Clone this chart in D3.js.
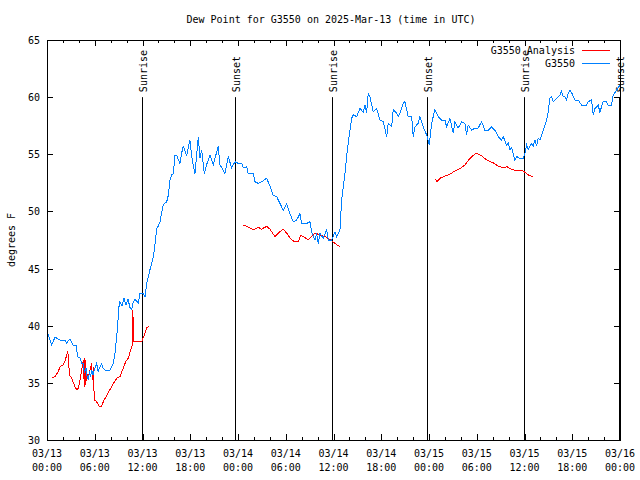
<!DOCTYPE html>
<html><head><meta charset="utf-8">
<script src="https://cdn.jsdelivr.net/npm/d3@7"></script>
<style>body{margin:0;background:#fff}svg{display:block}text{font-family:"DejaVu Sans Mono","Liberation Mono",monospace;font-size:10px;fill:#000}</style>
</head><body><svg id="c" width="640" height="480"></svg>
<script>
const title = "Dew Point for G3550 on 2025-Mar-13 (time in UTC)";
const yLabel = "degrees F";
const startTime = Date.UTC(2025, 2, 13, 0, 0);
const yTicks = [30, 35, 40, 45, 50, 55, 60, 65];
const seriesNames = ["G3550 Analysis", "G3550"];
const seriesColors = ["#ff0000", "#0080ff"];
// [hours since 03/13 00:00 UTC, degF]
const observed = [[0,39.5],[0.59,38.3],[1.0,39.0],[1.63,38.75],[2.26,38.75],[2.47,38.5],[2.89,38.85],[3.3,38.3],[3.73,38.3],[3.8,37.3],[4.15,37.2],[4.36,36.7],[4.56,36.7],[4.69,35.9],[4.9,36.3],[5.03,35.6],[5.19,35.3],[5.34,36.0],[5.46,35.5],[5.62,36.1],[5.78,35.7],[6.03,36.3],[6.24,36.7],[6.41,36.0],[6.66,36.4],[6.87,36.7],[7.04,36.3],[7.29,36.1],[7.91,36.1],[8.33,36.7],[8.54,37.6],[8.83,39.6],[9.05,41.7],[9.17,42.1],[9.42,41.7],[9.67,42.4],[9.92,41.8],[10.18,42.3],[10.43,41.6],[10.64,41.4],[10.8,42.0],[11.06,42.3],[11.47,42.0],[11.68,42.8],[12.1,42.8],[12.31,42.5],[12.52,43.7],[12.94,44.9],[13.35,46.0],[13.57,47.1],[13.78,48.5],[13.98,48.7],[14.2,49.1],[14.61,50.6],[15.04,50.85],[15.24,51.4],[15.45,52.75],[15.66,53.2],[15.87,53.3],[16.08,54.9],[16.29,54.9],[16.71,54.2],[16.92,55.1],[17.12,55.7],[17.55,54.9],[17.96,56.25],[18.18,54.8],[18.59,53.3],[19.01,56.5],[19.22,54.65],[19.43,55.4],[19.76,53.3],[20.06,54.1],[20.48,54.9],[20.89,54.1],[21.52,55.7],[21.73,54.1],[22.36,53.3],[22.78,54.8],[23.2,53.8],[23.62,54.35],[24.03,54.2],[24.46,54.2],[24.66,53.8],[25.09,53.9],[25.29,53.3],[25.92,53.3],[26.13,52.6],[26.55,52.45],[26.97,52.6],[27.6,52.9],[28.02,52.2],[28.43,51.4],[28.86,51.3],[29.27,50.7],[29.69,50.1],[30.11,50.7],[30.53,49.8],[30.94,49.1],[31.37,49.25],[31.78,49.8],[31.99,48.95],[32.63,48.95],[33.04,49.1],[33.25,48.2],[33.67,47.5],[33.88,48.1],[34.08,47.2],[34.3,48.1],[34.71,47.65],[35.14,48.4],[35.34,47.5],[35.77,47.5],[36.18,48.2],[36.4,47.8],[36.81,48.4],[37.02,51.0],[37.44,53.3],[37.65,54.8],[37.85,56.0],[38.07,57.1],[38.28,58.15],[38.48,58.45],[38.91,58.3],[39.32,59.0],[39.74,58.7],[39.95,59.3],[40.16,58.6],[40.36,60.3],[40.58,60.05],[40.99,58.7],[41.42,59.0],[41.83,58.0],[42.25,57.85],[42.68,56.55],[42.88,57.7],[43.3,57.4],[43.51,58.9],[43.93,58.6],[44.13,58.3],[44.35,58.6],[44.76,59.45],[44.97,59.6],[45.19,58.9],[45.39,58.3],[45.82,58.3],[46.02,56.55],[46.23,57.4],[46.65,57.7],[46.86,58.3],[47.27,57.4],[47.7,56.7],[48.03,55.8],[48.33,57.7],[48.74,58.9],[49.16,58.3],[49.59,58.0],[50.0,58.0],[50.21,57.4],[50.63,58.15],[51.04,56.85],[51.26,57.85],[51.67,57.3],[52.1,57.85],[52.51,57.7],[52.72,56.7],[52.93,57.55],[53.36,57.1],[53.77,57.3],[54.18,57.3],[54.61,57.85],[55.03,57.1],[55.44,57.1],[55.87,57.4],[56.28,57.1],[56.7,56.55],[57.12,56.25],[57.33,56.55],[57.75,55.8],[57.95,56.0],[58.17,55.4],[58.38,55.6],[58.79,54.5],[59.01,54.8],[59.42,54.65],[59.84,54.65],[60.05,55.1],[60.26,55.8],[60.46,55.4],[60.68,55.7],[60.89,55.95],[61.09,55.7],[61.31,56.25],[61.52,55.7],[61.72,56.4],[61.93,56.25],[62.35,57.1],[62.78,58.0],[62.98,58.7],[63.19,59.9],[63.41,60.05],[63.61,59.6],[64.03,59.9],[64.45,60.2],[64.66,60.5],[64.86,60.05],[65.08,60.05],[65.29,59.75],[65.49,60.35],[65.7,60.6],[65.92,60.4],[66.33,59.75],[66.75,59.75],[67.17,59.3],[67.8,59.3],[68.0,59.6],[68.43,59.75],[68.63,58.45],[68.84,59.0],[69.26,59.3],[69.47,58.7],[69.89,59.6],[70.31,59.6],[70.52,59.3],[70.94,59.3],[71.14,60.2],[71.57,60.6],[71.98,61.05]];
const analysis1 = [[0.67,35.45],[1.0,35.55],[1.42,36.0],[1.63,36.4],[2.05,36.6],[2.26,36.9],[2.6,37.75],[2.73,37.0],[2.8,35.7],[3.1,35.4],[3.52,34.65],[3.73,34.4],[3.93,34.5],[4.15,35.25],[4.36,36.1],[4.56,37.0],[4.69,34.65],[4.77,37.2],[4.86,34.8],[4.99,35.8],[5.19,35.5],[5.4,36.1],[5.62,36.7],[5.69,35.25],[5.82,36.4],[5.94,33.5],[6.24,33.35],[6.57,32.9],[6.87,32.95],[7.07,33.35],[7.5,33.9],[7.91,34.4],[8.33,34.95],[8.76,35.4],[9.17,35.55],[9.59,36.3],[9.92,36.9],[10.21,37.15],[10.52,37.9],[10.77,38.45],[10.8,41.4],[10.84,38.6],[11.9,38.6],[12.31,39.35],[12.52,39.8],[12.85,39.95]];
const analysis2 = [[24.66,48.8],[25.09,48.7],[25.92,48.4],[26.55,48.6],[26.97,48.45],[27.6,48.7],[28.02,48.45],[28.64,47.8],[29.06,48.1],[29.69,48.45],[30.11,48.1],[30.74,47.5],[31.16,47.35],[31.57,47.35],[31.87,47.9],[32.2,47.8],[32.83,47.5],[33.25,47.8],[33.67,48.1],[34.3,47.95],[34.92,47.8],[35.55,47.55],[36.18,47.2],[36.81,46.9]];
const analysis3 = [[48.83,52.8],[49.03,52.6],[49.37,52.9],[50.0,53.1],[50.63,53.25],[51.26,53.55],[51.88,53.75],[52.51,54.05],[53.05,54.55],[53.48,54.85],[53.89,55.1],[54.31,55.0],[54.74,54.8],[55.15,54.55],[55.65,54.35],[56.07,54.25],[56.49,54.05],[56.91,53.9],[57.33,53.85],[57.83,53.9],[58.17,53.75],[58.79,53.6],[59.64,53.6],[59.92,53.5],[60.46,53.2],[61.09,53.0]];
const sunEvents = [[11.9,"Sunrise"],[23.68,"Sunset"],[35.83,"Sunrise"],[47.72,"Sunset"],[59.95,"Sunrise"],[71.93,"Sunset"]];

const H = 3600e3;
const toDate = h => new Date(startTime + h * H);
const svg = d3.select("#c");
const L = 47, R = 620, T = 40, B = 440;
const x = d3.scaleUtc().domain([toDate(0), toDate(72)]).range([L, R]);
const y = d3.scaleLinear().domain([30, 65]).range([B, T]);
const crisp = v => Math.round(v) + 0.5;

// sun lines
const sun = svg.append("g");
sunEvents.forEach(([h, name]) => {
  const xx = crisp(x(toDate(h)));
  sun.append("line").attr("x1", xx).attr("x2", xx).attr("y1", y(60)).attr("y2", B)
    .attr("stroke", "#000").attr("stroke-width", 1);
  sun.append("text").attr("transform", `translate(${xx + 4},${y(60) - 5}) rotate(-90)`)
    .attr("text-anchor", "start").text(name);
});

// series
const line = d3.line().x(d => x(toDate(d[0]))).y(d => y(d[1]));
[analysis1, analysis2, analysis3].forEach(seg => {
  svg.append("path").datum(seg).attr("d", line).attr("fill", "none")
    .attr("stroke", seriesColors[0]).attr("stroke-width", 1).attr("shape-rendering", "crispEdges");
});
svg.append("path").datum(observed).attr("d", line).attr("fill", "none")
  .attr("stroke", seriesColors[1]).attr("stroke-width", 1).attr("shape-rendering", "crispEdges");

// axes
const majorTicks = d3.utcHour.every(6).range(toDate(0), toDate(72.01));
const minorTicks = d3.utcHour.every(2).range(toDate(0), toDate(72.01));
const fmtD = d3.utcFormat("%m/%d"), fmtT = d3.utcFormat("%H:%M");
const xb = svg.append("g").attr("transform", `translate(0,${B})`)
  .call(d3.axisBottom(x).tickValues(majorTicks).tickSize(0).tickFormat(""));
xb.select(".domain").remove();
const xt = svg.append("g").attr("transform", `translate(0,${T})`)
  .call(d3.axisTop(x).tickValues(majorTicks).tickSize(0).tickFormat(""));
xt.select(".domain").remove();
const tk = svg.append("g").attr("stroke", "#000").attr("stroke-width", 1);
minorTicks.forEach(d => {
  const xx = crisp(x(d));
  const len = (d.getUTCHours() % 6 === 0) ? 6 : 3;
  tk.append("line").attr("x1", xx).attr("x2", xx).attr("y1", B).attr("y2", B - len);
  tk.append("line").attr("x1", xx).attr("x2", xx).attr("y1", T).attr("y2", T + len);
});
majorTicks.forEach(d => {
  const xx = x(d);
  svg.append("text").attr("x", xx).attr("y", 457).attr("text-anchor", "middle").text(fmtD(d));
  svg.append("text").attr("x", xx).attr("y", 471).attr("text-anchor", "middle").text(fmtT(d));
});
const yl = svg.append("g").attr("transform", `translate(${L},0)`)
  .call(d3.axisLeft(y).tickValues(yTicks).tickSize(0).tickPadding(7).tickFormat(d3.format("d")));
yl.select(".domain").remove();
yl.selectAll("text").attr("font-family", null).attr("font-size", null).attr("dy", "0.35em");
yTicks.forEach(v => {
  const yy = crisp(y(v));
  tk.append("line").attr("x1", L).attr("x2", L + 6).attr("y1", yy).attr("y2", yy);
  tk.append("line").attr("x1", R).attr("x2", R - 6).attr("y1", yy).attr("y2", yy);
});
svg.append("rect").attr("x", L + 0.5).attr("y", T + 0.5).attr("width", R - L).attr("height", B - T)
  .attr("fill", "none").attr("stroke", "#000");

// title & labels
svg.append("text").attr("x", 331).attr("y", 23).attr("text-anchor", "middle").text(title);
svg.append("text").attr("transform", "translate(15,240) rotate(-90)").attr("text-anchor", "middle").text(yLabel);

// legend
seriesNames.forEach((n, i) => {
  const ly = 50 + i * 13;
  svg.append("text").attr("x", 575).attr("y", ly).attr("dy", "0.35em").attr("text-anchor", "end").text(n);
  svg.append("line").attr("x1", 582).attr("x2", 610).attr("y1", ly + 0.5).attr("y2", ly + 0.5)
    .attr("stroke", seriesColors[i]).attr("stroke-width", 1);
});
</script></body></html>
